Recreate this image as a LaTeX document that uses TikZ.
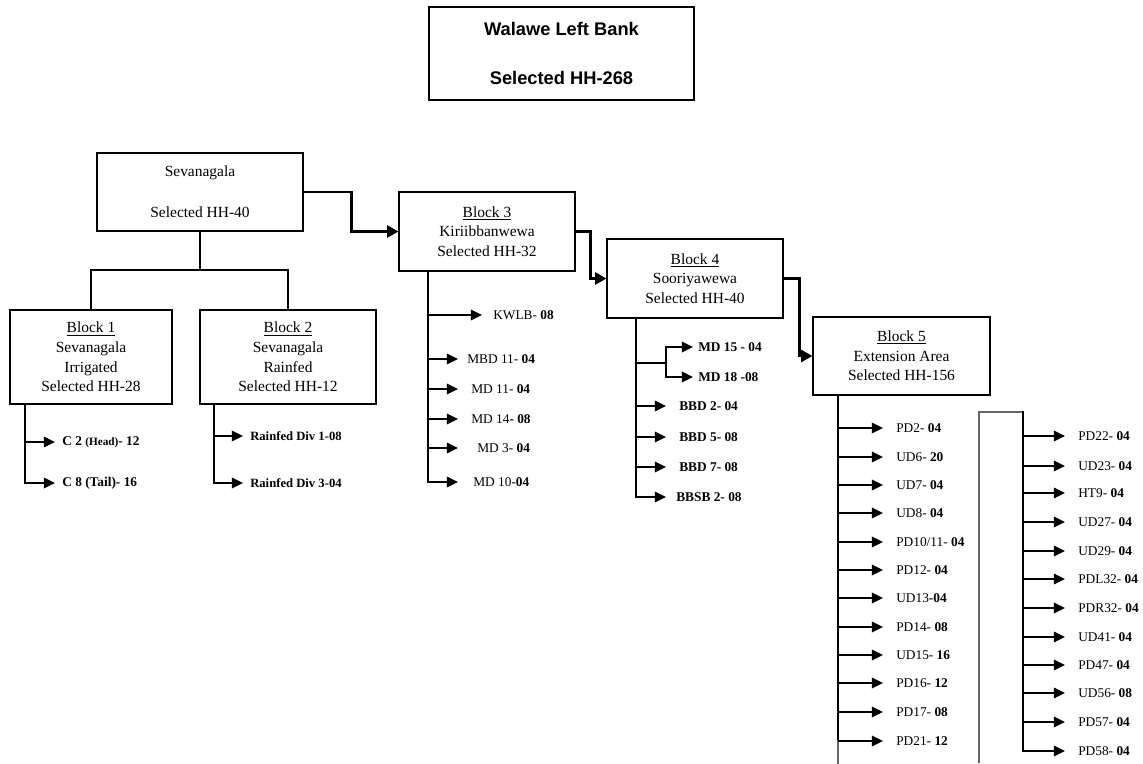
\documentclass[tikz,border=0pt]{standalone}
\usepackage{fontspec}
\setmainfont{Liberation Serif}
\newfontfamily\headfont{Liberation Sans}
\usetikzlibrary{arrows.meta, calc}
\tikzset{
	box/.style={rectangle, draw, line width=0.8pt, align=center, inner sep=2pt, font=\fontsize{11}{14}\selectfont},
	lbl/.style={anchor=west, inner xsep=0pt, font=\fontsize{9.5}{11}\selectfont},
	boldlbl/.style={lbl, font=\bfseries\fontsize{9.5}{11}\selectfont},
	bus/.style={draw, line width=1pt, line cap=rect},
	tap/.style={draw, line width=1.2pt, -{Triangle[length=8pt, width=7.5pt]}},
	link/.style={draw, line width=1.8pt, -{Triangle[length=8pt, width=8.5pt]}}
}

\begin{document}
\begin{tikzpicture}[x=0.025cm, y=-0.025cm]
		\useasboundingbox (0,0) rectangle (1143,763);
		
		% --- Title and top box ---
		\node[box, minimum width=6.625cm, minimum height=2.325cm, font=\headfont\bfseries\fontsize{13}{15}\selectfont] (walawe) at (561.5,53.5) {Walawe Left Bank\\[20pt]Selected HH-268};
		\node[box, minimum width=5.15cm, minimum height=1.95cm] (sev) at (200,192) {Sevanagala\\[15pt]Selected HH-40};
		
		% --- Blocks ---
		\node[box, minimum width=4.05cm, minimum height=2.35cm] (blk1) at (91,357) {\underline{Block 1}\\Sevanagala\\Irrigated\\Selected HH-28};
		\node[box, minimum width=4.4cm, minimum height=2.35cm] (blk2) at (288,357) {\underline{Block 2}\\Sevanagala\\Rainfed\\Selected HH-12};
		\node[box, minimum width=4.4cm, minimum height=1.975cm] (blk3) at (487,231.5) {\underline{Block 3}\\Kiriibbanwewa\\Selected HH-32};
		\node[box, minimum width=4.4cm, minimum height=1.975cm] (blk4) at (695,278.5) {\underline{Block 4}\\Sooriyawewa\\Selected HH-40};
		\node[box, minimum width=4.425cm, minimum height=1.95cm] (blk5) at (901.5,356) {\underline{Block 5}\\Extension Area\\Selected HH-156};
		
		% --- Split below Sevanagala ---
		\coordinate (split) at (200,270);
		\draw[bus] (sev.south) -- (split);
		\draw[bus, line cap=butt] (blk1.north) |- (split) -| (blk2.north);
		
		% --- Links between blocks ---
		\draw[link] (sev.east) -- ++(48,0) |- (blk3.west);
		\draw[link] (blk3.east) -- ++(15,0) |- (blk4.west);
		\draw[link] (blk4.east) -- ++(16,0) |- (blk5.west);
		
		% --- Bus start points and arrow ends ---
		\coordinate (bus1) at (25,404);
		\coordinate (bus2) at (214,404);
		\coordinate (bus3) at (428,271);
		\coordinate (bus4) at (636,318);
		\coordinate (bus5) at (838,395);
		\coordinate (bus6) at (1023,412);
		\coordinate (fork) at (666,363);
		\coordinate (frame) at (979,412);
		\coordinate (edge) at (0,763);
		\coordinate (end1) at (55,0);
		\coordinate (end2) at (243,0);
		\coordinate (end3k) at (482,0);
		\coordinate (end3) at (458,0);
		\coordinate (end4a) at (693,0);
		\coordinate (end4) at (666,0);
		\coordinate (end5) at (883,0);
		\coordinate (end6) at (1065,0);
		
		% --- Block 1 and 2 labels ---
		\node[boldlbl] (c2) at (62,442) {C 2 {\fontsize{8}{10}\selectfont(Head)}- 12};
		\node[boldlbl] (c8) at (62,483) {C 8 (Tail)- 16};
		\node[boldlbl, font=\bfseries\fontsize{9}{11}\selectfont] (rf1) at (250,436) {Rainfed Div 1-08};
		\node[boldlbl, font=\bfseries\fontsize{9}{11}\selectfont] (rf3) at (250,483) {Rainfed Div 3-04};
		
		\draw[tap] (bus1 |- c2) -- (end1 |- c2);
		\draw[bus] (bus1) -- (bus1 |- c8);
		\draw[tap] (bus1 |- c8) -- (end1 |- c8);
		\draw[tap] (bus2 |- rf1) -- (end2 |- rf1);
		\draw[bus] (bus2) -- (bus2 |- rf3);
		\draw[tap] (bus2 |- rf3) -- (end2 |- rf3);
		
		% --- Block 3 labels ---
		\node[lbl] (kwlb) at (493,315) {KWLB- \textbf{08}};
		\node[lbl] (mbd11) at (467,359) {MBD 11- \textbf{04}};
		\node[lbl] (md11) at (471,389) {MD 11- \textbf{04}};
		\node[lbl] (md14) at (471,419) {MD 14\textbf{- 08}};
		\node[lbl] (md3) at (477,448) {MD 3- \textbf{04}};
		\node[lbl] (md10) at (473,482) {MD 10-\textbf{04}};
		
		\draw[bus] (bus3) -- (bus3 |- md10);
		\draw[tap] (bus3 |- kwlb) -- (end3k |- kwlb);
		\draw[tap] (bus3 |- mbd11) -- (end3 |- mbd11);
		\draw[tap] (bus3 |- md11) -- (end3 |- md11);
		\draw[tap] (bus3 |- md14) -- (end3 |- md14);
		\draw[tap] (bus3 |- md3) -- (end3 |- md3);
		\draw[tap] (bus3 |- md10) -- (end3 |- md10);
		
		% --- Block 4 labels ---
		\node[boldlbl] (md15) at (698,347) {MD 15 - 04};
		\node[boldlbl] (md18) at (698,377) {MD 18 -08};
		\node[boldlbl] (bbd2) at (679,406) {BBD 2- 04};
		\node[boldlbl] (bbd5) at (679,437) {BBD 5- 08};
		\node[boldlbl] (bbd7) at (679,467) {BBD 7- 08};
		\node[boldlbl] (bbsb2) at (676,497) {BBSB 2- 08};
		
		\draw[bus] (bus4) -- (bus4 |- bbsb2);
		\draw[bus] (fork -| bus4) -- (fork);
		\draw[bus] (fork |- md15) -- (fork |- md18);
		\draw[tap] (fork |- md15) -- (end4a |- md15);
		\draw[tap] (fork |- md18) -- (end4a |- md18);
		\draw[tap] (bus4 |- bbd2) -- (end4 |- bbd2);
		\draw[tap] (bus4 |- bbd5) -- (end4 |- bbd5);
		\draw[tap] (bus4 |- bbd7) -- (end4 |- bbd7);
		\draw[tap] (bus4 |- bbsb2) -- (end4 |- bbsb2);
		
		% --- Block 5 labels, first column ---
		\node[lbl] (pd2) at (896,428) {PD2- \textbf{04}};
		\node[lbl] (ud6) at (896,457) {UD6- \textbf{20}};
		\node[lbl] (ud7) at (896,485) {UD7- \textbf{04}};
		\node[lbl] (ud8) at (896,513) {UD8- \textbf{04}};
		\node[lbl] (pd1011) at (896,542) {PD10/11- \textbf{04}};
		\node[lbl] (pd12) at (896,570) {PD12- \textbf{04}};
		\node[lbl] (ud13) at (896,598) {UD13\textbf{-04}};
		\node[lbl] (pd14) at (896,627) {PD14- \textbf{08}};
		\node[lbl] (ud15) at (896,655) {UD15- \textbf{16}};
		\node[lbl] (pd16) at (896,683) {PD16- \textbf{12}};
		\node[lbl] (pd17) at (896,712) {PD17- \textbf{08}};
		\node[lbl] (pd21) at (896,741) {PD21- \textbf{12}};
		
		\draw[bus, line width=1.8pt] (bus5) -- (bus5 |- pd21);
		\draw[bus, black!60, line width=0.8pt] (bus5 |- pd21) -- (bus5 |- edge);
		\draw[tap] (bus5 |- pd2) -- (end5 |- pd2);
		\draw[tap] (bus5 |- ud6) -- (end5 |- ud6);
		\draw[tap] (bus5 |- ud7) -- (end5 |- ud7);
		\draw[tap] (bus5 |- ud8) -- (end5 |- ud8);
		\draw[tap] (bus5 |- pd1011) -- (end5 |- pd1011);
		\draw[tap] (bus5 |- pd12) -- (end5 |- pd12);
		\draw[tap] (bus5 |- ud13) -- (end5 |- ud13);
		\draw[tap] (bus5 |- pd14) -- (end5 |- pd14);
		\draw[tap] (bus5 |- ud15) -- (end5 |- ud15);
		\draw[tap] (bus5 |- pd16) -- (end5 |- pd16);
		\draw[tap] (bus5 |- pd17) -- (end5 |- pd17);
		\draw[tap] (bus5 |- pd21) -- (end5 |- pd21);
		
		% --- Block 5 labels, second column ---
		\node[lbl] (pd22) at (1078,436) {PD22- \textbf{04}};
		\node[lbl] (ud23) at (1078,466) {UD23- \textbf{04}};
		\node[lbl] (ht9) at (1078,493) {HT9- \textbf{04}};
		\node[lbl] (ud27) at (1078,522) {UD27- \textbf{04}};
		\node[lbl] (ud29) at (1078,551) {UD29- \textbf{04}};
		\node[lbl] (pdl32) at (1078,579) {PDL32- \textbf{04}};
		\node[lbl] (pdr32) at (1078,608) {PDR32- \textbf{04}};
		\node[lbl] (ud41) at (1078,637) {UD41- \textbf{04}};
		\node[lbl] (pd47) at (1078,665) {PD47- \textbf{04}};
		\node[lbl] (ud56) at (1078,693) {UD56- \textbf{08}};
		\node[lbl] (pd57) at (1078,722) {PD57- \textbf{04}};
		\node[lbl] (pd58) at (1078,751) {PD58- \textbf{04}};
		
		\draw[bus, black!60, line width=0.8pt, line cap=butt] (frame |- edge) -- (frame) -- (bus6);
		\draw[bus, line width=1.8pt] (bus6) -- (bus6 |- pd58);
		\draw[tap] (bus6 |- pd22) -- (end6 |- pd22);
		\draw[tap] (bus6 |- ud23) -- (end6 |- ud23);
		\draw[tap] (bus6 |- ht9) -- (end6 |- ht9);
		\draw[tap] (bus6 |- ud27) -- (end6 |- ud27);
		\draw[tap] (bus6 |- ud29) -- (end6 |- ud29);
		\draw[tap] (bus6 |- pdl32) -- (end6 |- pdl32);
		\draw[tap] (bus6 |- pdr32) -- (end6 |- pdr32);
		\draw[tap] (bus6 |- ud41) -- (end6 |- ud41);
		\draw[tap] (bus6 |- pd47) -- (end6 |- pd47);
		\draw[tap] (bus6 |- ud56) -- (end6 |- ud56);
		\draw[tap] (bus6 |- pd57) -- (end6 |- pd57);
		\draw[tap] (bus6 |- pd58) -- (end6 |- pd58);
		
\end{tikzpicture}
\end{document}
